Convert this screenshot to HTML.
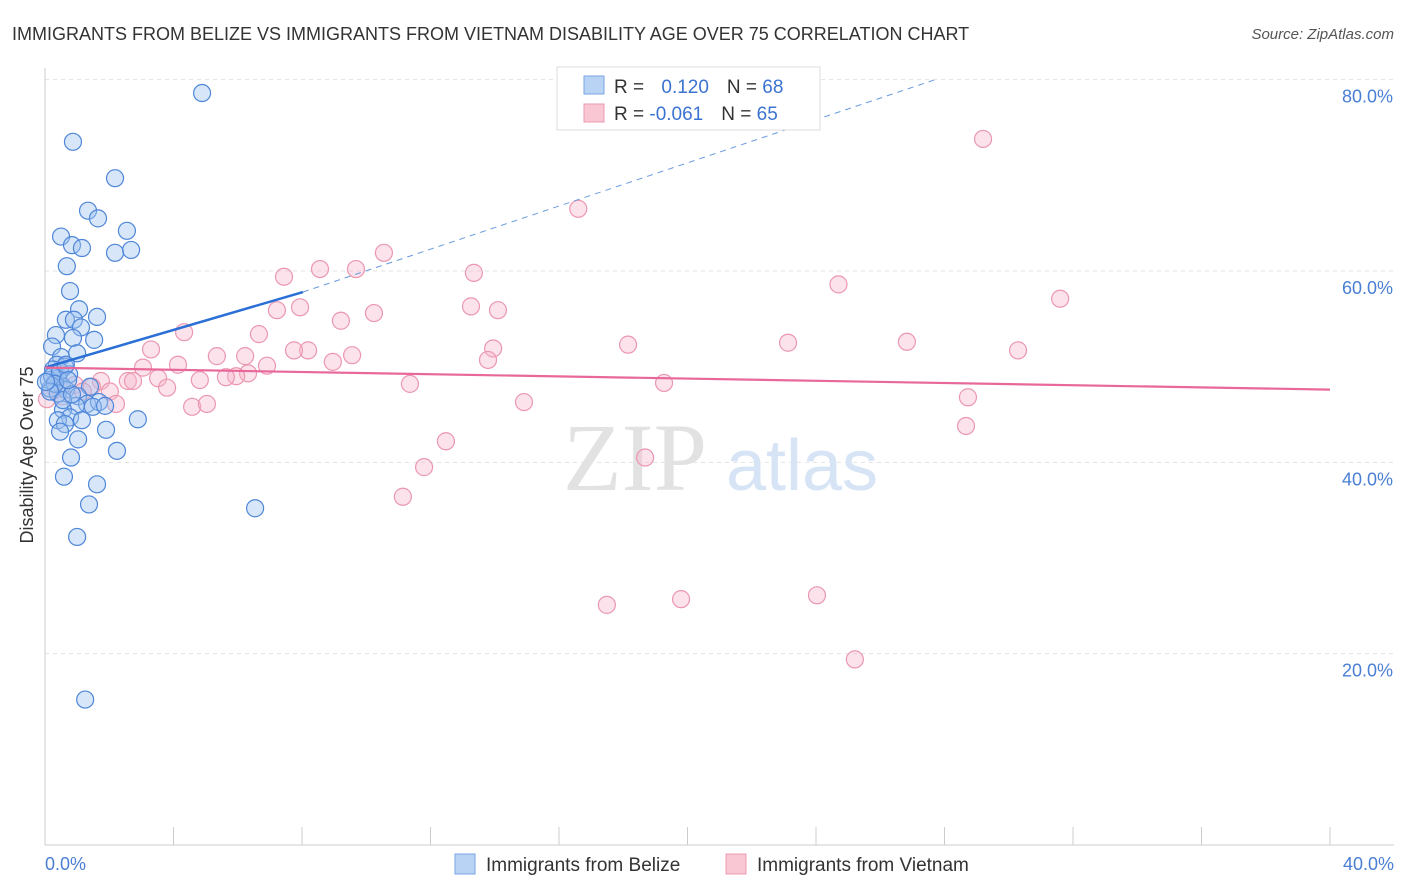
<!DOCTYPE html>
<html><head><meta charset="utf-8"><style>
body{margin:0;background:#fff;font-family:"Liberation Sans",sans-serif;}
svg{display:block}
</style></head><body>
<svg id="chart" width="1406" height="892">
<text x="12" y="40" font-size="18" fill="#333">IMMIGRANTS FROM BELIZE VS IMMIGRANTS FROM VIETNAM DISABILITY AGE OVER 75 CORRELATION CHART</text>
<text x="1394" y="39" font-size="15" fill="#555" text-anchor="end" font-style="italic">Source: ZipAtlas.com</text>
<g id="grid"></g>
<g>
<text x="635" y="490" font-size="96" fill="#e2e2e2" text-anchor="middle" font-family="Liberation Serif">ZIP</text>
<text x="802" y="490" font-size="72" fill="#d6e4f5" text-anchor="middle">atlas</text>
</g>
<g id="pts"></g>
<g id="trend"></g>
<text transform="translate(33,455) rotate(-90)" font-size="18" fill="#333" text-anchor="middle">Disability Age Over 75</text>
<text x="45" y="870" font-size="18" fill="#4a7fd4">0.0%</text>
<text x="1394" y="870" font-size="18" fill="#4a7fd4" text-anchor="end">40.0%</text>
<g>
<rect x="557" y="67" width="263" height="63" fill="#fff" stroke="#ddd"/>
<rect x="584" y="76" width="20" height="18" fill="#b8d3f4" stroke="#7aa6e4"/>
<rect x="584" y="104" width="20" height="18" fill="#f9c6d4" stroke="#eb9ab2"/>
<text x="614" y="93" font-size="19" fill="#333">R = <tspan fill="#3b74d0" dx="12">0.120</tspan><tspan dx="18" fill="#333">N = </tspan><tspan fill="#3b74d0">68</tspan></text>
<text x="614" y="120" font-size="19" fill="#333">R = <tspan fill="#3b74d0">-0.061</tspan><tspan dx="18" fill="#333">N = </tspan><tspan fill="#3b74d0">65</tspan></text>
</g>
<g>
<rect x="455" y="854" width="20" height="20" fill="#b8d3f4" stroke="#7aa6e4"/>
<text x="486" y="871" font-size="19" fill="#333">Immigrants from Belize</text>
</g>
<g>
<rect x="726" y="854" width="20" height="20" fill="#f9c6d4" stroke="#eb9ab2"/>
<text x="757" y="871" font-size="19" fill="#333">Immigrants from Vietnam</text>
</g>
</svg>
<script>
const yTicks=[20,40,60,80];
const yTickLabels=["20.0%","40.0%","60.0%","80.0%"];
const xTicks=[0,4,8,12,16,20,24,28,32,36,40];
const belizeX=[4.89,0.87,2.18,1.34,1.65,2.55,0.50,0.84,1.15,2.18,2.68,0.68,0.78,1.06,0.65,0.90,1.62,1.12,0.34,0.87,1.53,0.22,0.50,1.00,0.37,0.62,0.25,0.75,0.40,0.28,0.53,0.16,1.40,0.65,0.40,1.03,1.31,0.96,1.68,0.56,1.49,1.87,0.78,0.40,1.15,0.62,2.89,0.47,1.90,1.03,2.24,0.81,0.59,1.62,1.37,6.54,1.00,1.25,0.12,0.22,0.47,0.65,0.31,0.16,0.56,0.84,0.72,0.03];
const belizeY=[78.6,73.5,69.7,66.3,65.5,64.2,63.6,62.7,62.4,61.9,62.2,60.5,57.9,56.0,54.9,54.9,55.2,54.1,53.3,53.0,52.8,52.1,51.0,51.4,50.2,50.0,49.7,49.2,48.8,48.3,48.0,47.7,47.9,47.6,47.2,46.9,46.1,45.9,46.3,45.5,45.8,45.9,44.7,44.4,44.4,44.0,44.5,43.2,43.4,42.4,41.2,40.5,38.5,37.7,35.6,35.2,32.2,15.2,48.6,49.0,49.5,50.2,48.2,47.4,46.5,47.1,48.6,48.4];
const vietnamX=[29.2,16.6,10.55,13.35,8.56,9.68,7.44,24.7,31.6,7.94,13.26,14.1,7.22,10.24,9.21,4.33,6.66,18.15,23.13,26.83,13.95,30.29,3.30,8.19,7.75,5.35,6.23,9.56,13.79,8.96,3.05,4.14,6.91,6.32,5.95,5.63,3.52,2.58,4.82,1.74,2.74,19.27,11.36,0.93,1.46,3.80,2.02,0.53,0.06,28.73,14.91,2.21,4.58,5.04,28.67,12.48,18.68,11.8,11.14,17.49,19.8,24.03,25.21,0.34,1.18];
const vietnamY=[73.8,66.5,61.9,59.8,60.2,60.2,59.4,58.6,57.1,56.2,56.3,55.9,55.9,55.6,54.8,53.6,53.4,52.3,52.5,52.6,51.9,51.7,51.8,51.7,51.7,51.1,51.1,51.2,50.7,50.5,49.9,50.2,50.1,49.3,49.0,48.9,48.8,48.5,48.6,48.5,48.5,48.3,48.2,48.1,47.9,47.8,47.4,46.9,46.6,46.8,46.3,46.1,45.8,46.1,43.8,42.2,40.5,39.5,36.4,25.1,25.7,26.1,19.4,47.6,47.4];
const belizeTrendX=[0,8.03,27.8];
const belizeTrendY=[49.9,57.8,80.1];
const vietnamTrendX=[0,40];
const vietnamTrendY=[49.9,47.6];

const NS="http://www.w3.org/2000/svg";
const X0=45,X1=1330,Y0=845,PXY=9.567;
const sx=v=>X0+(X1-X0)*v/40;
const sy=v=>Y0-v*PXY;
function mk(tag,attrs,parent){const e=document.createElementNS(NS,tag);for(const k in attrs)e.setAttribute(k,attrs[k]);parent.appendChild(e);return e;}
const grid=document.getElementById('grid');
yTicks.forEach((t,i)=>{
  const l=mk('line',{x1:X0,x2:1394,y1:sy(t),y2:sy(t),stroke:'#e2e2e2','stroke-dasharray':'4,4'},grid);
  
  
  const tx=mk('text',{x:1393,y:sy(t)+23,'font-size':18,fill:'#4a7fd4','text-anchor':'end'},grid);
  tx.textContent=yTickLabels[i];
  
  
});
const ax=mk('line',{x1:X0,x2:X0,y1:68,y2:Y0,stroke:'#ccc'},grid);


const bx=mk('line',{x1:X0,x2:1394,y1:Y0,y2:Y0,stroke:'#ccc'},grid);


xTicks.forEach(t=>{
  const l=mk('line',{x1:sx(t),x2:sx(t),y1:Y0-18,y2:Y0,stroke:'#ccc'},grid);
  
  
});
const pts=document.getElementById('pts');
vietnamX.forEach((v,i)=>{
  const c=mk('circle',{cx:sx(v),cy:sy(vietnamY[i]),r:8.5,fill:'rgba(248,182,202,0.38)',stroke:'#eb97b0','stroke-width':1.2},pts);
  
  
});
belizeX.forEach((v,i)=>{
  const c=mk('circle',{cx:sx(v),cy:sy(belizeY[i]),r:8.5,fill:'rgba(160,196,240,0.42)',stroke:'#4e86d8','stroke-width':1.2},pts);
  
  
});
const tr=document.getElementById('trend');
const b1=mk('line',{x1:sx(belizeTrendX[0]),y1:sy(belizeTrendY[0]),x2:sx(belizeTrendX[1]),y2:sy(belizeTrendY[1]),stroke:'#2a6fd6','stroke-width':2.5},tr);


const b2=mk('line',{x1:sx(belizeTrendX[1]),y1:sy(belizeTrendY[1]),x2:sx(belizeTrendX[2]),y2:sy(belizeTrendY[2]),stroke:'#6b9ae0','stroke-width':1,'stroke-dasharray':'6,5'},tr);


const v1=mk('line',{x1:sx(vietnamTrendX[0]),y1:sy(vietnamTrendY[0]),x2:sx(vietnamTrendX[1]),y2:sy(vietnamTrendY[1]),stroke:'#e8689a','stroke-width':2.2},tr);


</script>
</body></html>
